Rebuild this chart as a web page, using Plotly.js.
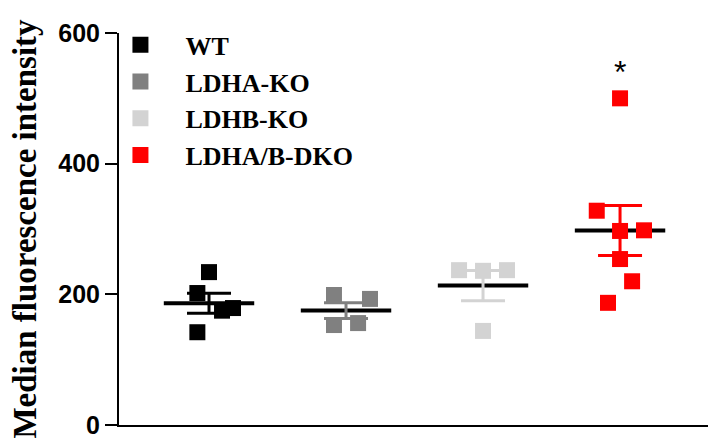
<!DOCTYPE html>
<html>
<head>
<meta charset="utf-8">
<script src="https://cdn.plot.ly/plotly-3.0.1.min.js"></script>
<style>html,body{margin:0;padding:0;background:#fff;}#chart{width:708px;height:446px;}</style>
</head>
<body>
<div id="chart"></div>
<script>
// ---- data ----
const groups = ['WT', 'LDHA-KO', 'LDHB-KO', 'LDHA/B-DKO'];
const wtValues = [234, 202, 175, 179, 142];
const ldhaKoValues = [199, 193, 153, 156];
const ldhbKoValues = [237, 236, 237, 144];
const dkoValues = [500, 328, 297, 298, 254, 220, 187];
const yTickValues = [0, 200, 400, 600];
const significanceLabel = '*';

// ---- presentation ----
const groupValues = [wtValues, ldhaKoValues, ldhbKoValues, dkoValues];
const colors = ['#000000', '#808080', '#d3d3d3', '#ff0000'];
// horizontal scatter of points within each group (layout only)
const jitter = [
  [0, -0.085, 0.095, 0.175, -0.085],
  [-0.088, 0.175, -0.088, 0.088],
  [-0.175, 0, 0.175, 0],
  [0, -0.17, 0, 0.175, 0, 0.088, -0.088]
];

function mean(a) { return a.reduce((s, v) => s + v, 0) / a.length; }
function sem(a) {
  const m = mean(a);
  const v = a.reduce((s, x) => s + (x - m) * (x - m), 0) / (a.length - 1);
  return Math.sqrt(v) / Math.sqrt(a.length);
}

const meanTraces = [], errTraces = [], pointTraces = [];
groupValues.forEach((vals, i) => {
  const m = mean(vals), e = sem(vals);
  meanTraces.push({
    type: 'scatter', mode: 'lines', x: [i - 0.33, i + 0.33], y: [m, m],
    line: {color: '#000', width: 4}, showlegend: false, hoverinfo: 'skip'
  });
  errTraces.push({
    type: 'scatter', mode: 'markers', x: [i], y: [m],
    marker: {size: 1, opacity: 0},
    error_y: {type: 'data', array: [e], visible: true, color: colors[i], thickness: 3, width: 22},
    showlegend: false, hoverinfo: 'skip'
  });
  pointTraces.push({
    type: 'scatter', mode: 'markers', name: groups[i],
    x: vals.map((v, k) => i + jitter[i][k]), y: vals,
    marker: {symbol: 'square', size: 16, color: colors[i]},
    showlegend: true
  });
});

const layout = {
  width: 708, height: 446,
  margin: {l: 119, r: 0, t: 33, b: 21},
  paper_bgcolor: '#fff', plot_bgcolor: '#fff',
  showlegend: true,
  legend: {
    x: -0.04, xanchor: 'left', y: 1.03, yanchor: 'top',
    font: {family: 'Liberation Serif', size: 26, color: '#000', weight: 'bold'},
    itemwidth: 80, bgcolor: 'rgba(0,0,0,0)', tracegroupgap: 0
  },
  xaxis: {
    range: [-0.657, 3.642], showticklabels: false, ticks: '', showgrid: false,
    zeroline: false, showline: true, linecolor: '#000', linewidth: 2, fixedrange: true
  },
  yaxis: {
    range: [0, 600], tickvals: yTickValues, ticktext: yTickValues.map(String),
    ticks: 'outside', ticklen: 12, tickwidth: 2, tickcolor: '#000',
    showline: true, linecolor: '#000', linewidth: 2, showgrid: false, zeroline: false,
    tickfont: {family: 'Liberation Sans', size: 25, color: '#000', weight: 'bold'},
    title: {text: 'Median fluorescence intensity', standoff: 12,
      font: {family: 'Liberation Serif', size: 33, color: '#000', weight: 'bold'}},
    fixedrange: true
  },
  annotations: [{
    x: 3, y: 540, xref: 'x', yref: 'y', text: significanceLabel, showarrow: false,
    font: {family: 'Liberation Sans', size: 32, color: '#000'}
  }]
};

Plotly.newPlot('chart', meanTraces.concat(errTraces, pointTraces), layout, {displayModeBar: false, staticPlot: true});
</script>
</body>
</html>
